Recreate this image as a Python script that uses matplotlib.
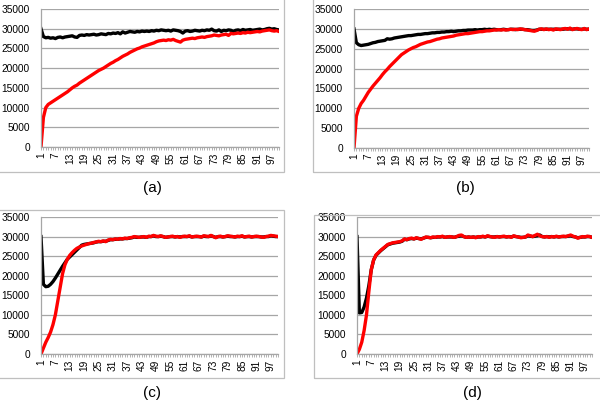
import matplotlib
matplotlib.use('Agg')
import matplotlib.pyplot as plt
from matplotlib.patches import Rectangle

plt.rcParams['font.family'] = ['Liberation Sans', 'DejaVu Sans']

cats = list(range(1, 101))
yticks = [0, 5000, 10000, 15000, 20000, 25000, 30000, 35000]
panel_labels = ['(a)', '(b)', '(c)', '(d)']

# (a)
black_a = [30000, 28000, 27700, 27800, 27600, 27700, 27500, 27800, 27900, 27700,
           27900, 28000, 28100, 28200, 27900, 27800, 28300, 28400, 28300, 28500,
           28400, 28500, 28600, 28400, 28500, 28700, 28600, 28500, 28800, 28700,
           28900, 28800, 29000, 28700, 29200, 28900, 29100, 29300, 29200, 29100,
           29300, 29200, 29400, 29300, 29400, 29300, 29500, 29400, 29600, 29500,
           29700, 29600, 29500, 29600, 29400, 29700, 29600, 29500, 29300, 28900,
           29400, 29500, 29300, 29400, 29600, 29500, 29400, 29600, 29500, 29700,
           29600, 29900, 29500, 29400, 29700, 29300, 29600, 29500, 29700, 29600,
           29300, 29600, 29700, 29500, 29800, 29600, 29700, 29800, 29600, 29700,
           29800, 29900, 29700, 29800, 30000, 30100, 29900, 30000, 29800, 29700]
red_a = [0, 7500, 10000, 10800, 11200, 11600, 12000, 12400, 12800, 13200,
         13600, 14000, 14500, 15000, 15400, 15700, 16200, 16600, 17000, 17400,
         17800, 18200, 18600, 19000, 19400, 19700, 20000, 20400, 20800, 21200,
         21500, 21900, 22200, 22600, 23000, 23300, 23600, 24000, 24300, 24600,
         24900, 25100, 25400, 25600, 25800, 26000, 26200, 26400, 26700, 26900,
         27000, 27100, 27000, 27200, 27100, 27300, 27000, 26800, 26600, 27100,
         27300, 27400, 27500, 27600, 27500, 27700, 27800, 27900, 27800, 28000,
         28100, 28200, 28400, 28300, 28200, 28400, 28500, 28600, 28300, 28800,
         28700, 28800, 28900, 28800, 29000, 28900, 29100, 29000, 29100, 29200,
         29300, 29200, 29400, 29500, 29600, 29700, 29500, 29400, 29500, 29300]

# (b)
black_b = [30000, 26500, 26000, 25800, 25900, 26000, 26100, 26300, 26500, 26600,
           26800, 26900, 27000, 27100, 27500, 27400, 27500, 27700, 27800, 27900,
           28000, 28100, 28200, 28300, 28300, 28400, 28500, 28600, 28600, 28700,
           28800, 28800, 28900, 29000, 29000, 29100, 29100, 29200, 29200, 29300,
           29300, 29400, 29300, 29400, 29500, 29500, 29600, 29600, 29700, 29700,
           29700, 29800, 29700, 29800, 29800, 29900, 29800, 29900, 29800, 29900,
           29800, 29800, 29800, 29900, 29800, 29800, 29900, 29900, 29800, 29900,
           29900, 29900, 29800, 29800, 29700, 29600, 29600, 29700, 29900, 29900,
           29900, 29900, 29900, 29900, 29900, 29900, 29900, 29900, 29900, 30000,
           30000, 30000, 29900, 30000, 30000, 29900, 29900, 30000, 29900, 29900]
red_b = [0, 8000, 10000, 11200, 12000, 13000, 14000, 14800, 15600, 16300,
         17000, 17700, 18500, 19200, 19800, 20500, 21100, 21700, 22300, 22900,
         23500, 23900, 24300, 24700, 25000, 25300, 25500, 25800, 26100, 26300,
         26500, 26700, 26800, 27000, 27200, 27400, 27500, 27700, 27800, 27900,
         28000, 28100, 28200, 28400, 28500, 28600, 28700, 28800, 28800, 28900,
         29000, 29100, 29200, 29300, 29300, 29400, 29500, 29500, 29600, 29700,
         29700, 29800, 29700, 29800, 29700, 29800, 29900, 29800, 29900, 29800,
         30000, 29900, 29800, 29700, 29600, 29500, 29400, 29600, 29900, 30000,
         29800, 30000, 29800, 29900, 29700, 30000, 29900, 29800, 30000, 30100,
         29900, 30200, 29800, 30000, 30100, 29900, 29800, 30100, 29800, 30000]

# (c)
black_c = [30000, 17800, 17200, 17300, 17800, 18500, 19400, 20400, 21400, 22400,
           23300, 24200, 24800, 25400, 26000, 26600, 27200, 27800, 28000, 28100,
           28200, 28300, 28400, 28600, 28700, 28700, 28800, 28800, 29000, 29200,
           29200, 29300, 29300, 29400, 29400, 29500, 29500, 29600, 29700, 29900,
           29800, 29800, 29900, 29900, 29800, 30000, 30000, 30200, 30000, 30000,
           30100, 30000, 29800, 29900, 30000, 30000, 29900, 30000, 29900, 30000,
           30000, 30000, 30100, 29900, 30000, 30000, 30000, 29900, 30100, 30000,
           30000, 30200, 30000, 29800, 30000, 30000, 29900, 30000, 30100, 30000,
           30000, 29900, 30000, 30000, 30100, 29900, 30000, 30000, 29900, 30000,
           30000, 30000, 29900, 29900, 30000, 30000, 30200, 30100, 30000, 30000]
red_c = [0, 1500, 3000, 4200, 5600, 7500, 10000, 13500, 17000, 20500,
         22800, 24200, 25200, 25900, 26500, 27000, 27300, 27600, 27800, 28000,
         28200, 28300, 28500, 28600, 28800, 28700, 28900, 28700, 29100, 29300,
         29200, 29400, 29300, 29500, 29400, 29600, 29500, 29700, 29800, 30000,
         29900, 29800, 29900, 30000, 29800, 30100, 30000, 30300, 30100, 30000,
         30200, 30000, 29800, 29900, 30000, 30100, 29900, 30000, 29800, 30000,
         30100, 30000, 30200, 29900, 30000, 30100, 30000, 29900, 30200, 30100,
         30000, 30300, 30000, 29700, 30000, 30100, 29900, 30000, 30200, 30100,
         30000, 29900, 30100, 30000, 30200, 29900, 30000, 30100, 29900, 30000,
         30100, 30000, 29900, 29800, 30000, 30100, 30300, 30200, 30100, 30000]

# (d)
black_d = [30000, 10500, 10600, 12000, 14300, 17500, 21500, 24000, 25200, 25800,
           26400, 26900, 27400, 27900, 28100, 28300, 28400, 28500, 28600, 28800,
           29300, 29200, 29400, 29500, 29400, 29600, 29500, 29400, 29600, 29800,
           29800, 29700, 29800, 29800, 29900, 29900, 30000, 29800, 29900, 29900,
           29900, 29800, 30000, 30100, 30200, 30000, 29800, 29900, 29800, 29900,
           29800, 29900, 29900, 30000, 29900, 30100, 30000, 29900, 29900, 30000,
           29900, 30000, 30000, 29900, 30000, 29900, 30100, 30000, 29900, 29800,
           29800, 29900, 30200, 30100, 30000, 30100, 30200, 30400, 30000, 29900,
           30000, 29900, 30000, 29900, 30000, 29900, 30000, 30000, 30000, 30100,
           30200, 30000, 29900, 29700, 29800, 29900, 29900, 30000, 30000, 29800]
red_d = [0, 1200, 3000, 6000, 10000, 16000, 21500, 24000, 25300, 25900,
         26500, 27000, 27500, 28000, 28200, 28400, 28500, 28600, 28700, 28900,
         29400, 29200, 29500, 29600, 29400, 29700, 29500, 29300, 29600, 29900,
         29800, 29700, 29900, 29800, 30000, 29900, 30100, 29800, 29900, 30000,
         29900, 29800, 30000, 30300, 30400, 30000, 29800, 29900, 29800, 29900,
         29700, 30000, 29900, 30100, 29900, 30200, 30000, 29900, 29800, 30000,
         29900, 30000, 30100, 29900, 30000, 29800, 30200, 30000, 29900, 29700,
         29800, 29900, 30400, 30200, 30000, 30300, 30600, 30200, 30000, 29900,
         30000, 29800, 30000, 29900, 30100, 29900, 30000, 30100, 30000, 30200,
         30400, 30100, 29900, 29600, 29800, 30000, 29900, 30100, 30000, 29800]

series = [(black_a, red_a), (black_b, red_b), (black_c, red_c), (black_d, red_d)]

W, H = 600, 403
fig = plt.figure(figsize=(W / 100, H / 100), dpi=100)

# pixel boxes: plot area, outer chart box, label centre
plot_px = [(41, 9, 279, 147), (354, 9, 589, 148), (41, 217, 278, 354), (357, 217, 592, 354)]
box_px = [(-2, -2, 284, 172), (313, -2, 603, 172), (-2, 210, 284, 378), (314, 215, 603, 378)]
lab_px = [(152, 188), (465, 188), (152, 393), (472, 393)]

grid_col = '#a6a6a6'

for i in range(4):
    x0, y0, x1, y1 = plot_px[i]
    ax = fig.add_axes([x0 / W, 1 - y1 / H, (x1 - x0) / W, (y1 - y0) / H])
    blk, red = series[i]
    ax.plot(cats, blk, color='black', lw=2.4, solid_joinstyle='round')
    ax.plot(cats, red, color='#ff0000', lw=2.4, solid_joinstyle='round')
    ax.set_xlim(1, 100)
    ax.set_ylim(0, 35000)
    ax.set_yticks(yticks)
    ax.set_yticklabels([str(v) for v in yticks])
    ax.set_xticks(cats)
    ax.set_xticklabels([str(c) if (c - 1) % 6 == 0 else '' for c in cats], rotation=90)
    ax.grid(axis='y', color=grid_col, lw=0.9)
    ax.set_axisbelow(True)
    for s in ['top', 'right']:
        ax.spines[s].set_visible(False)
    for s in ['left', 'bottom']:
        ax.spines[s].set_color(grid_col)
        ax.spines[s].set_linewidth(0.9)
    ax.tick_params(axis='y', length=0, pad=8, labelsize=7.3, colors='black')
    ax.tick_params(axis='x', length=2.5, width=0.6, color=grid_col, pad=1.5, labelsize=7.3)

    bx0, by0, bx1, by1 = box_px[i]
    fig.add_artist(Rectangle((bx0 / W, 1 - by1 / H), (bx1 - bx0) / W, (by1 - by0) / H,
                             transform=fig.transFigure, fill=False, edgecolor='#bfbfbf', lw=0.9))
    lx, ly = lab_px[i]
    fig.text(lx / W, 1 - ly / H, panel_labels[i], ha='center', va='center', fontsize=11)

fig.savefig('out.png', dpi=100)
